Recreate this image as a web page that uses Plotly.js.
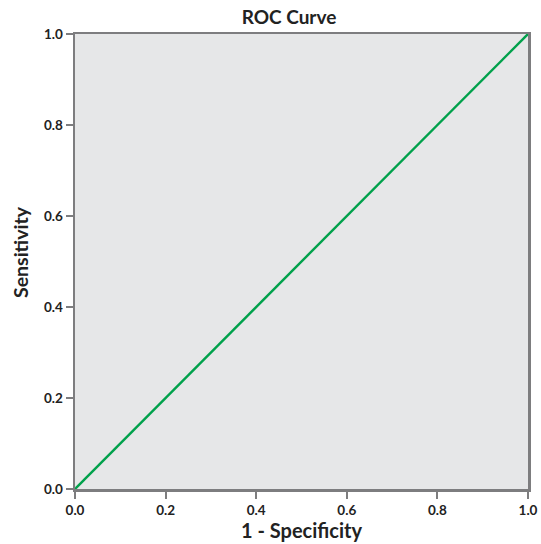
<!DOCTYPE html>
<html>
<head>
<meta charset="utf-8">
<script src="https://cdn.plot.ly/plotly-3.0.1.min.js"></script>
<style>html,body{margin:0;padding:0;background:#fff;}#chart{width:541px;height:544px;}</style>
</head>
<body>
<div id="chart"></div>
<script>
var specComplement = [0.0, 1.0];
var sensitivity = [0.0, 1.0];
var tickVals = [0, 0.2, 0.4, 0.6, 0.8, 1.0];
var tickText = ['0.0', '0.2', '0.4', '0.6', '0.8', '1.0'];

var FONT = 'Lato, "Open Sans", sans-serif';
var axisColor = '#7d7d7f';

var trace = {
  x: specComplement,
  y: sensitivity,
  mode: 'lines',
  type: 'scatter',
  line: {color: '#00a14b', width: 2.4},
  hoverinfo: 'none',
  cliponaxis: false
};

var axisCommon = {
  range: [0, 1],
  tickvals: tickVals,
  ticktext: tickText,
  ticks: 'outside',
  ticklen: 7,
  tickwidth: 2,
  tickcolor: axisColor,
  showline: true,
  linecolor: axisColor,
  linewidth: 2.5,
  mirror: true,
  showgrid: false,
  zeroline: false,
  tickfont: {family: FONT, size: 13.5, color: '#222', weight: 'bold'}
};

var layout = {
  width: 541,
  height: 544,
  margin: {l: 75, r: 13, t: 34, b: 55, pad: 0},
  paper_bgcolor: '#ffffff',
  plot_bgcolor: '#e6e7e8',
  showlegend: false,
  title: {
    text: '<b>ROC Curve</b>',
    font: {family: FONT, size: 19, color: '#222'},
    x: 289 / 541, xanchor: 'center', xref: 'container',
    y: 1 - 17 / 544, yanchor: 'middle', yref: 'container'
  },
  xaxis: Object.assign({}, axisCommon, {
    title: {text: '<b>1 - Specificity</b>', font: {family: FONT, size: 20, color: '#222'}, standoff: 6}
  }),
  yaxis: Object.assign({}, axisCommon),
  annotations: [{
    text: '<b>Sensitivity</b>',
    textangle: -90,
    xref: 'paper', yref: 'paper',
    x: (21 - 75) / 453, y: (489 - 252) / 455,
    xanchor: 'center', yanchor: 'middle',
    showarrow: false,
    font: {family: FONT, size: 19.5, color: '#222'}
  }]
};

Plotly.newPlot('chart', [trace], layout, {displayModeBar: false, staticPlot: true});
</script>
</body>
</html>
